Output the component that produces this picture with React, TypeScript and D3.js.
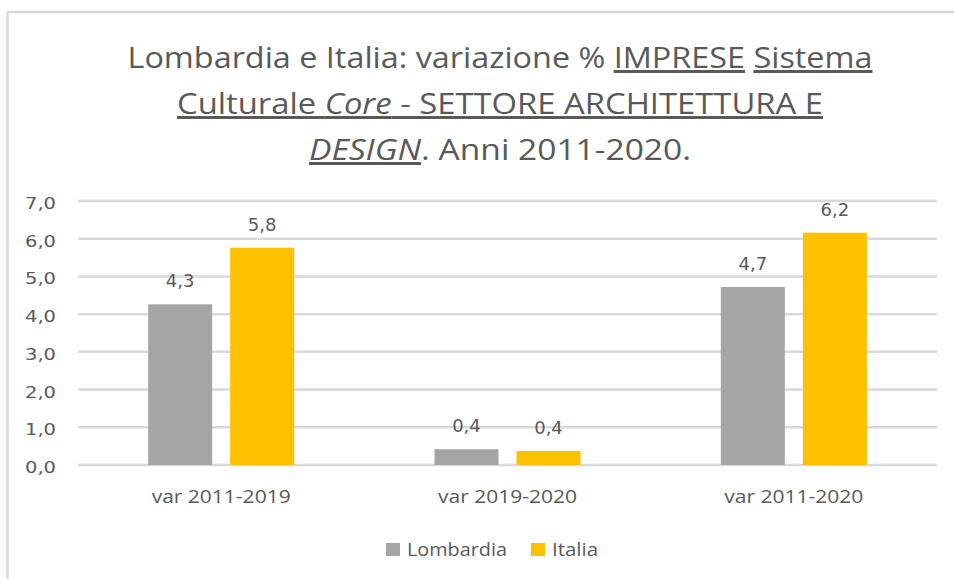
import React from "react";
import * as d3 from "d3";

// chart values
const categories = ["var 2011-2019", "var 2019-2020", "var 2011-2020"];
const seriesNames = ["Lombardia", "Italia"];
const lombardia = [4.26, 0.42, 4.72];
const italia = [5.76, 0.37, 6.16];
const yTicks = [0, 1, 2, 3, 4, 5, 6, 7];

const colors: Record<string, string> = { Lombardia: "#a5a5a5", Italia: "#ffc000" };
const textColor = "#595959";
const gridColor = "#d9d9d9";

const W = 954;
const H = 579;
const margin = { left: 78, right: W - 937, top: 201, bottom: H - 465 };

const fmt = (v: number) => d3.format(".1f")(v).replace(".", ",");

const App = () => {
  // Scales
  const x0 = d3
    .scaleBand<string>()
    .domain(categories)
    .range([margin.left, W - margin.right])
    .padding(0);
  const x1 = d3
    .scaleBand<string>()
    .domain(seriesNames)
    .range([0, x0.bandwidth()])
    .paddingInner(0.22)
    .paddingOuter(0.855);
  const y = d3.scaleLinear().domain([0, 7]).range([H - margin.bottom, margin.top]);

  const rows = categories.map((c, i) => ({ cat: c, values: [lombardia[i], italia[i]] }));

  const titleStyle = { fontFamily: "'Open Sans', sans-serif", fontSize: 30, fill: textColor };

  return (
    <svg
      width={W}
      height={H}
      style={{ position: "absolute", left: 0, top: 0, display: "block", background: "#fff" }}
    >
      {/* chart frame (left and top edges only visible) */}
      <line x1={7.5} x2={7.5} y1={12} y2={H} stroke={gridColor} strokeWidth={2.5} />
      <line x1={7.5} x2={W} y1={12} y2={12} stroke={gridColor} strokeWidth={2.5} />

      {/* Title */}
      <g style={titleStyle} textAnchor="middle">
        <text x={500} y={68} textLength={745} lengthAdjust="spacingAndGlyphs">
          Lombardia e Italia: variazione %{" "}
          <tspan textDecoration="underline">IMPRESE</tspan>{" "}
          <tspan textDecoration="underline">Sistema</tspan>
        </text>
        <text x={500} y={114} textLength={646} lengthAdjust="spacingAndGlyphs" textDecoration="underline">
          Culturale <tspan fontStyle="italic">Core</tspan> - SETTORE ARCHITETTURA E
        </text>
        <text x={500} y={160} textLength={382} lengthAdjust="spacingAndGlyphs">
          <tspan fontStyle="italic" textDecoration="underline">DESIGN</tspan>. Anni 2011-2020.
        </text>
      </g>

      {/* Gridlines and y labels */}
      {yTicks.map((t) => (
        <g key={t}>
          <line
            x1={margin.left}
            x2={W - margin.right}
            y1={y(t)}
            y2={y(t)}
            stroke={gridColor}
            strokeWidth={2.5}
          />
          <text
            x={56}
            y={y(t) + 8}
            textAnchor="end"
            textLength={31}
            lengthAdjust="spacingAndGlyphs"
            style={{ fontFamily: "'DejaVu Sans', sans-serif", fontSize: 15, fill: textColor }}
          >
            {fmt(t)}
          </text>
        </g>
      ))}

      {/* Bars */}
      {rows.map((r) => (
        <g key={r.cat} transform={`translate(${x0(r.cat)},0)`}>
          {r.values.map((v, j) => {
            const s = seriesNames[j];
            const bx = x1(s)!;
            return (
              <g key={s}>
                <rect
                  x={bx}
                  y={y(v)}
                  width={x1.bandwidth()}
                  height={y(0) - y(v)}
                  fill={colors[s]}
                />
                <text
                  x={bx + x1.bandwidth() / 2}
                  y={y(v) - 17}
                  textAnchor="middle"
                  style={{ fontFamily: "'DejaVu Sans', sans-serif", fontSize: 18, fill: textColor }}
                >
                  {fmt(v)}
                </text>
              </g>
            );
          })}
          <text
            x={x0.bandwidth() / 2}
            y={503}
            textAnchor="middle"
            textLength={139}
            lengthAdjust="spacingAndGlyphs"
            style={{ fontFamily: "'Open Sans', sans-serif", fontSize: 19, fill: textColor }}
          >
            {r.cat}
          </text>
        </g>
      ))}

      {/* Legend */}
      <g style={{ fontFamily: "'Open Sans', sans-serif", fontSize: 19, fill: textColor }}>
        <rect x={386} y={543} width={14} height={13} fill={colors.Lombardia} />
        <text x={407} y={556} textLength={100} lengthAdjust="spacingAndGlyphs">
          {seriesNames[0]}
        </text>
        <rect x={531} y={543} width={14} height={13} fill={colors.Italia} />
        <text x={552} y={556} textLength={46} lengthAdjust="spacingAndGlyphs">
          {seriesNames[1]}
        </text>
      </g>
    </svg>
  );
};

export default App;
